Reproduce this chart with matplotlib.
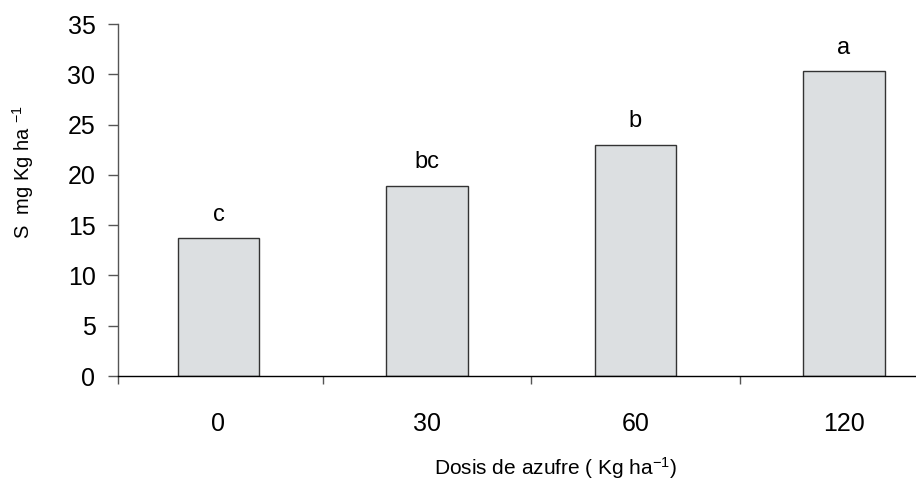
import matplotlib
matplotlib.use("Agg")
import matplotlib.pyplot as plt
from matplotlib.ticker import FixedLocator

plt.rcParams['font.family'] = ['Liberation Sans', 'DejaVu Sans']
plt.rcParams['mathtext.fontset'] = 'custom'
plt.rcParams['mathtext.rm'] = 'Liberation Sans'
plt.rcParams['mathtext.it'] = 'Liberation Sans'

# Data
doses = ['0', '30', '60', '120']
sulfur = [13.7, 18.9, 23.0, 30.3]
letters = ['c', 'bc', 'b', 'a']
yticks = [0, 5, 10, 15, 20, 25, 30, 35]

W, H = 916, 491
fig = plt.figure(figsize=(W / 100, H / 100), dpi=100)
left, right = 118, 916
bottom, top = 376, 24
ax = fig.add_axes([left / W, (H - bottom) / H, (right - left) / W, (bottom - top) / H])

x = list(range(len(doses)))
ax.bar(x, sulfur, width=0.39, color='#dcdfe1', edgecolor='#333333', linewidth=1.0, zorder=2)

for xi, v, lab in zip(x, sulfur, letters):
    ax.annotate(lab, (xi, v), xytext=(0, 9), textcoords='offset points',
                ha='center', va='bottom', fontsize=17)

ax.set_ylim(0, 35)
x0 = -100.5 / 208.5
ax.set_xlim(x0, x0 + (right - left) / 208.5)
ax.set_yticks(yticks)
ax.set_yticklabels([str(t) for t in yticks], fontsize=18)

# category boundary ticks (major) and labels at centers (minor)
ax.xaxis.set_major_locator(FixedLocator([x0, 0.5, 1.5, 2.5]))
ax.xaxis.set_major_formatter(plt.NullFormatter())
ax.xaxis.set_minor_locator(FixedLocator(x))
ax.set_xticklabels(doses, minor=True, fontsize=18)
ax.tick_params(axis='x', which='major', direction='out', length=6, width=1, color='#555555')
ax.tick_params(axis='x', which='minor', length=0, pad=26)
ax.tick_params(axis='y', direction='out', length=7.2, width=1, color='#555555', pad=9)

for s in ['top', 'right']:
    ax.spines[s].set_visible(False)
ax.spines['left'].set_color('#555555')
ax.spines['left'].set_linewidth(1)
ax.spines['bottom'].set_color('#000000')
ax.spines['bottom'].set_linewidth(1)

fig.text(23 / W, 1 - 172 / H, r'S  mg Kg ha $^{-1}$', rotation=90, ha='center', va='center', fontsize=14.5)
fig.text(556 / W, 1 - 468 / H, r'Dosis de azufre ( Kg ha$^{-1}$)', ha='center', va='center', fontsize=15)

fig.savefig('out.png', dpi=100)
